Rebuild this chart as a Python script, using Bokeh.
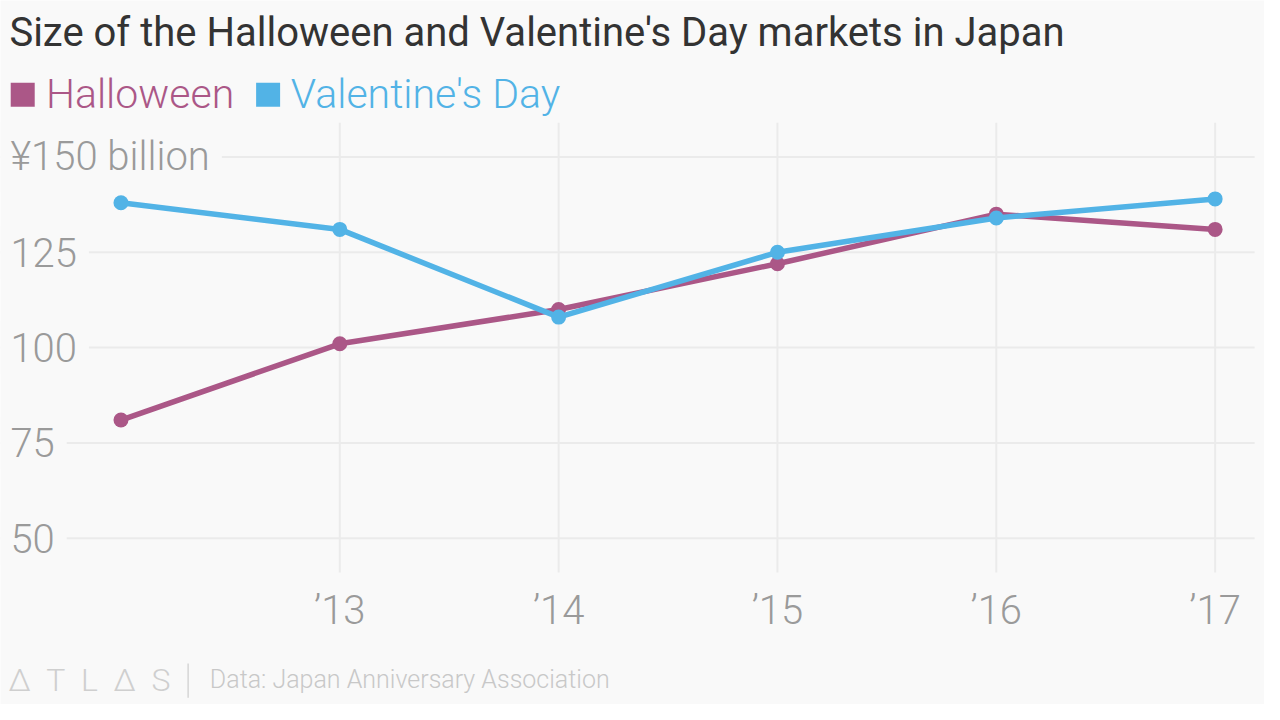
from bokeh.plotting import figure
from bokeh.models import Label, Range1d, ColumnDataSource
from bokeh.embed import file_html
from bokeh.resources import INLINE
from bokeh.core.properties import value

# ---- data ----
years = [2012, 2013, 2014, 2015, 2016, 2017]
halloween = [81, 101, 110, 122, 135, 131]
valentines = [138, 131, 108, 125, 134, 139]
x_ticks = [2013, 2014, 2015, 2016, 2017]
x_tick_labels = ["\u201913", "\u201914", "\u201915", "\u201916", "\u201917"]
y_ticks = [50, 75, 100, 125, 150]
y_tick_labels = ["50", "75", "100", "125", "\u00a5150 billion"]
series_names = ["Halloween", "Valentine's Day"]

# ---- style ----
BG = "#f9f9f9"
C_HAL = "#ab5787"
C_VAL = "#52b3e6"
GRID = "#ebebeb"
AXIS_TXT = "#9a9a9a"
LIGHT = "'Roboto Light', Roboto"

W, H = 1264, 704
# reference-pixel -> data mapping
X0_PX, X_STEP = 122.0, 221.6
Y0_PX, Y_SCALE = 160.0, 3.9


def px(x):
    return 2012 + (x - X0_PX) / X_STEP


def py(y):
    return 150 - (y - Y0_PX) / Y_SCALE


p = figure(width=W, height=H, output_backend="svg", toolbar_location=None,
           x_range=Range1d(px(0), px(1280)), y_range=Range1d(py(720), py(0)),
           min_border=0, background_fill_color=BG, border_fill_color=BG)
p.axis.visible = False
p.grid.visible = False
p.outline_line_color = None

# grid lines
p.segment(x0=[px(0)] * len(y_ticks), x1=[px(1270)] * len(y_ticks), y0=y_ticks, y1=y_ticks,
          line_color=GRID, line_width=2)
p.segment(x0=x_ticks, x1=x_ticks, y0=[py(125)] * len(x_ticks), y1=[py(585)] * len(x_ticks),
          line_color=GRID, line_width=2)

# y tick labels (with background covering grid)
for v, t in zip(y_ticks, y_tick_labels):
    p.add_layout(Label(x=px(10), y=v, text=t, text_baseline="middle", text_align="left",
                       text_font=LIGHT, text_font_size="40px", text_color=AXIS_TXT,
                       background_fill_color=BG, padding=12, x_offset=-12))

# x tick labels
for v, t in zip(x_ticks, x_tick_labels):
    p.text(x=[v], y=[py(624)], text=[t], text_align="center", text_baseline="middle",
           text_font=value(LIGHT), text_font_size="40px", text_color=AXIS_TXT)

src = ColumnDataSource(dict(year=years, hal=halloween, val=valentines))
p.line("year", "hal", source=src, line_color=C_HAL, line_width=5.5)
p.scatter("year", "hal", source=src, size=15, fill_color=C_HAL, line_color=None)
p.line("year", "val", source=src, line_color=C_VAL, line_width=5.5)
p.scatter("year", "val", source=src, size=15, fill_color=C_VAL, line_color=None)

# title
p.text(x=[px(9)], y=[py(33)], text=["Size of the Halloween and Valentine's Day markets in Japan"],
       text_baseline="middle", text_font=value("Roboto"), text_font_size="40px",
       text_color="#333333")

# legend
p.rect(x=[px(22.5)], y=[py(96.5)], width=24, height=24, width_units="screen", height_units="screen",
       fill_color=C_HAL, line_color=None)
p.text(x=[px(46)], y=[py(96)], text=[series_names[0]], text_baseline="middle",
       text_font=value(LIGHT), text_font_size="41px", text_color=C_HAL)
p.rect(x=[px(271)], y=[py(96.5)], width=24, height=24, width_units="screen", height_units="screen",
       fill_color=C_VAL, line_color=None)
p.text(x=[px(294)], y=[py(96)], text=[series_names[1]], text_baseline="middle",
       text_font=value(LIGHT), text_font_size="41px", text_color=C_VAL)

# footer
NB = "\u00a0\u00a0"
p.text(x=[px(8)], y=[py(695)], text=[NB.join(["\u0394", "T", "L", "\u0394", "S"])], text_baseline="middle",
       text_font=value(LIGHT), text_font_size="32px", text_color="#cfcfcf")
p.segment(x0=[px(190)], x1=[px(190)], y0=[py(678)], y1=[py(713)], line_color="#d5d5d5", line_width=1.5)
p.text(x=[px(212)], y=[py(694)], text=["Data: Japan Anniversary Association"], text_baseline="middle",
       text_font=value(LIGHT), text_font_size="25px", text_color="#c8c8c8")

open("out.html", "w").write(file_html(p, INLINE))
